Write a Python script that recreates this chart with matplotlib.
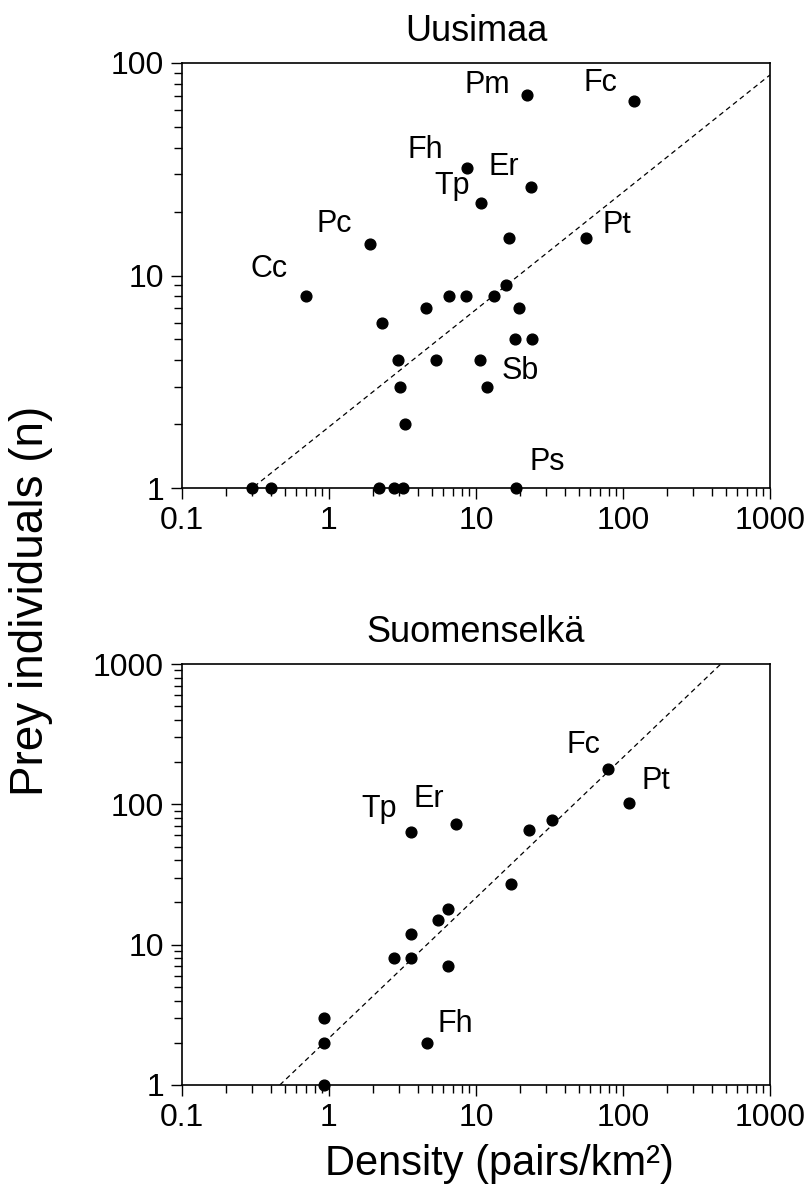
import numpy as np
import matplotlib.pyplot as plt
from matplotlib import ticker

plt.rcParams['font.family'] = ['Liberation Sans', 'DejaVu Sans']

# Uusimaa: density (pairs/km2) and prey individuals
u_x = [22.3, 119, 8.7, 23.7, 10.8, 55.9, 16.9, 1.9, 0.70, 16.1, 6.6, 8.6, 13.3,
       4.55, 19.7, 2.3, 18.4, 24.2, 2.93, 5.35, 10.7, 3.06, 11.8, 3.28,
       0.30, 0.40, 2.2, 2.75, 3.2, 18.7]
u_y = [71, 66, 32, 26, 22, 15, 15, 14, 8, 9, 8, 8, 8,
       7, 7, 6, 5, 5, 4, 4, 4, 3, 3, 2,
       1, 1, 1, 1, 1, 1]
u_lab = ['Pm', 'Fc', 'Fh', 'Er', 'Tp', 'Pt', '', 'Pc', 'Cc', '', '', '', '',
         '', '', '', '', '', '', '', '', '', 'Sb', '',
         '', '', '', '', '', 'Ps']
u_fit = [1.94, 0.552]   # y = a * x^b
u_fit_x = [0.31, 1000]

# Suomenselkä
s_x = [79, 110, 3.6, 7.3, 22.9, 33, 17.3, 6.45, 5.5, 3.6, 2.76, 3.6, 6.45,
       0.92, 0.92, 0.92, 4.65]
s_y = [180, 103, 63, 73, 66, 77, 27, 18, 15, 12, 8, 8, 7,
       3, 2, 1, 2]
s_lab = ['Fc', 'Pt', 'Tp', 'Er', '', '', '', '', '', '', '', '', '',
         '', '', '', 'Fh']
s_fit = [2.16, 1.0]
s_fit_x = [0.463, 463]

# label offsets in pixels (dx, dy)
u_off = {'Pm': (-40, 10), 'Fc': (-34, 18), 'Fh': (-42, 18), 'Er': (-27, 20),
         'Tp': (-29, 17), 'Pt': (31, 13), 'Pc': (-36, 20), 'Cc': (-37, 27),
         'Sb': (34, 16), 'Ps': (31, 26)}
s_off = {'Fc': (-25, 24), 'Pt': (27, 22), 'Tp': (-32, 23), 'Er': (-27, 25),
         'Fh': (28, 19)}

fig = plt.figure(figsize=(8.11, 12.02), dpi=100)
ax1 = fig.add_axes([182/811, 1-488/1202, 588/811, 425/1202])
ax2 = fig.add_axes([182/811, 1-1085/1202, 588/811, 421/1202])


def panel(ax, x, y, lab, off, fit, fitx, ylim, title):
    ax.set_xscale('log')
    ax.set_yscale('log')
    ax.set_xlim(0.1, 1000)
    ax.set_ylim(*ylim)
    fx = np.array(fitx)
    ax.plot(fx, fit[0]*fx**fit[1], color='black', lw=0.9, ls=(0, (4, 3)))
    ax.scatter(x, y, s=60, color='black', zorder=3, clip_on=False)
    for xi, yi, l in zip(x, y, lab):
        if l:
            ax.annotate(l, (xi, yi), xytext=off[l], textcoords='offset pixels',
                        ha='center', va='center', fontsize=22)
    ax.set_title(title, fontsize=26, pad=16)
    fmt = ticker.FuncFormatter(lambda v, p: '%g' % v)
    ax.xaxis.set_major_formatter(fmt)
    ax.yaxis.set_major_formatter(fmt)
    ax.xaxis.set_minor_formatter(ticker.NullFormatter())
    ax.yaxis.set_minor_formatter(ticker.NullFormatter())
    ax.xaxis.set_minor_locator(ticker.LogLocator(subs=np.arange(2, 10)))
    ax.yaxis.set_minor_locator(ticker.LogLocator(subs=np.arange(2, 10)))
    ax.tick_params(which='major', direction='out', length=8, width=1,
                   labelsize=23, pad=5)
    ax.tick_params(which='minor', direction='out', length=6, width=1)
    for sp in ax.spines.values():
        sp.set_linewidth(1.2)


panel(ax1, u_x, u_y, u_lab, u_off, u_fit, u_fit_x, (1, 100), 'Uusimaa')
panel(ax2, s_x, s_y, s_lab, s_off, s_fit, s_fit_x, (1, 1000), 'Suomenselkä')

ax2.set_xlabel('Density (pairs/km²)', fontsize=30)
ax2.xaxis.set_label_coords(0.54, -0.14)
fig.text(0.038, 0.50, 'Prey individuals (n)', rotation=90, fontsize=33,
         ha='center', va='center')

fig.savefig('out.png', dpi=100)
